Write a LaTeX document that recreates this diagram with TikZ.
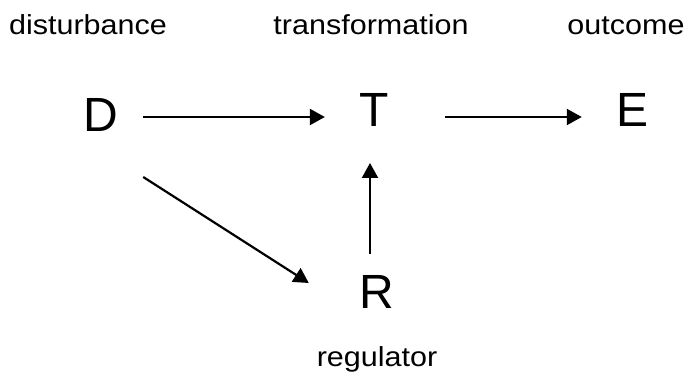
\documentclass[tikz,border=0pt]{standalone}
\usepackage{fontspec}
\setmainfont{Liberation Sans}
\newfontfamily\letterfont{Liberation Sans}
\newfontfamily\captionfont[FakeStretch=1.11]{Liberation Sans}
\usetikzlibrary{arrows.meta,calc}
\tikzset{
  letter/.style={font=\letterfont\fontsize{48}{48}\selectfont, inner sep=0pt, anchor=base},
  caption/.style={font=\captionfont\fontsize{27.5}{27.5}\selectfont, inner sep=0pt, anchor=base},
  arr/.style={line width=2.2pt, -{Triangle[length=15pt,width=16pt]}}
}
\begin{document}
\begin{tikzpicture}[x=1pt,y=-1pt]
  \useasboundingbox[fill=white] (0,0) rectangle (688,374);

  % captions
  \node[caption] (cd) at (88,35) {disturbance};
  \node[caption] (ct) at (371,35) {transformation};
  \node[caption] (co) at (626,35) {outcome};
  \node[caption] (cr) at (377,366) {regulator};

  % variables
  \node[letter] (D) at (101,132) {D};
  \node[letter] (T) at (374,127) {T};
  \node[letter] (E) at (632,127) {E};
  \node[letter] (R) at (377,308) {R};

  % connectors
  \draw[arr] ($(D.base east)+(24.7,-15)$) -- ($(T.base west)+(-34.3,-10)$);
  \draw[arr] ($(T.base east)+(56.3,-10)$) -- ($(E.base west)+(-34,-10)$);
  \draw[arr] ($(D.base east)+(24.7,45)$) -- ($(R.base west)+(-50.7,-25)$);
  \draw[arr] ($(R.base)+(-7,-54)$) -- ($(T.base)+(-4,36)$);
\end{tikzpicture}
\end{document}
